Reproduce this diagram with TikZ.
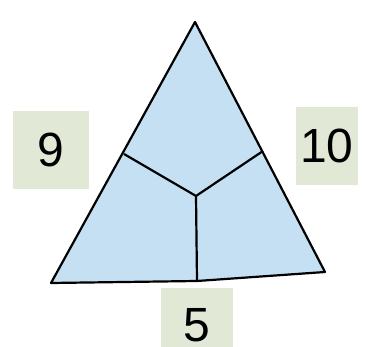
\documentclass[tikz,border=0pt]{standalone}
\usepackage{fontspec}
\setmainfont{Liberation Sans}
\definecolor{triblue}{RGB}{196,224,242}
\definecolor{cardgreen}{RGB}{226,232,214}
\usetikzlibrary{positioning}

\begin{document}
\begin{tikzpicture}[x=1pt,y=-1pt,
  numcard/.style={fill=cardgreen,draw=none,minimum width=76pt,minimum height=78pt,
    inner sep=0pt,font=\fontsize{48}{52}\selectfont},
  edge/.style={line width=2.2pt,line join=round}
]
  \useasboundingbox (0,0) rectangle (365,347);
  % triangle corners and split points
  \coordinate (apex) at (195,22);
  \coordinate (bl) at (51,283);
  \coordinate (br) at (325,272);
  \coordinate (bm) at (197,281);
  \coordinate (lm) at (124,154);
  \coordinate (rm) at (263,151);
  \coordinate (ctr) at (196,196);
  \fill[triblue] (apex) -- (br) -- (bm) -- (bl) -- cycle;
  \draw[edge] (apex) -- (br) -- (bm) -- (bl) -- cycle;
  \draw[edge] (lm) -- (ctr) -- (rm);
  \draw[edge] (ctr) -- (bm);
  % number cards
  \node[numcard] (nine) at (50.5,150) {9};
  \node[numcard,minimum width=62pt] (ten) at (327,146) {10};
  \node[numcard,minimum width=72pt,minimum height=74pt] (five) at (197,325) {5};
\end{tikzpicture}
\end{document}
